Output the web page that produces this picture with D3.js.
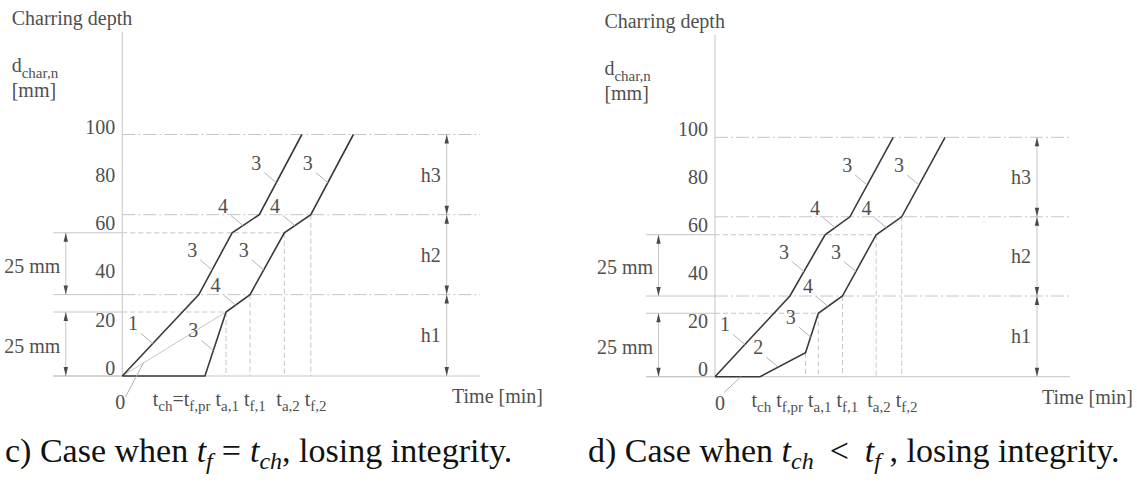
<!DOCTYPE html>
<html><head><meta charset="utf-8">
<script src="https://cdn.jsdelivr.net/npm/d3@7"></script>
<style>
html,body{margin:0;padding:0;background:#fff;}
svg{display:block;}
text{font-family:"Liberation Serif","Times New Roman",serif;}
</style></head><body>
<svg id="chart" width="1137" height="485"></svg>
<script>
// ---------- data ----------
const depthTicks = [0, 20, 40, 60, 80, 100];          // charring depth [mm]
const layerTops = [33.7, 66.8, 100];                   // upper bound of h1, h2, h3 [mm]
const layerNames = ["h1", "h2", "h3"];
const protectionSpans = [[0, 26.5], [33.7, 59.3]];     // 25 mm protected zones [mm]
const protectionLabel = "25 mm";
const protectedDepths = [26.5, 59.3];

// c) t_f = t_ch
const cLine1Time  = [0, 21.4, 30.7, 38.3, 50.2];
const cLine1Depth = [0, 33.7, 59.3, 66.8, 100];
const cLine1Phase = ["1", "3", "4", "3"];
const cLine2Time  = [0, 23.1, 29.0, 35.7, 45.3, 52.7, 64.6];
const cLine2Depth = [0, 0, 26.5, 33.7, 59.3, 66.8, 100];
const cLine2Phase = [null, "3", "4", "3", "4", "3"];
const cRefTime  = [0, 29.0];
const cRefDepth = [0, 26.5];
const cTimeLabels = ["t_ch=t_f,pr", "t_a,1", "t_f,1", "t_a,2", "t_f,2"];

// d) t_ch < t_f
const dLine1Time  = [0, 21.1, 31.0, 38.0, 50.2];
const dLine1Depth = [0, 33.7, 59.3, 66.8, 100];
const dLine1Phase = ["1", "3", "4", "3"];
const dLine2Time  = [0, 12.7, 25.5, 29.1, 35.9, 45.4, 52.6, 64.8];
const dLine2Depth = [0, 0, 10, 26.5, 33.7, 59.3, 66.8, 100];
const dLine2Phase = [null, "2", "3", "4", "3", "4", "3"];
const dTimeLabels = ["t_ch", "t_f,pr", "t_a,1", "t_f,1", "t_a,2", "t_f,2"];

// captions: [text, kind] with kind "" roman, "i" italic, "s" italic subscript, "o" operator
const captionC = [["c) Case when ", ""], ["t", "i"], ["f", "s"], ["=", "o"], ["t", "i"], ["ch", "s"], [", losing integrity.", ""]];
const captionD = [["d) Case when ", ""], ["t", "i"], ["ch", "s"], ["<", "o"], ["t", "i"], ["f", "s"], [" , losing integrity.", ""]];

// ---------- drawing ----------
const svg = d3.select("#chart");
const INK = "#3a3a3a", TXT = "#505050", GRID = "#c6c6c6", LEAD = "#b4b4b4";
const DASHDOT = "13,3,2,3", DASH = "5,3";
const FS = 20, FSUB = 15;

const defs = svg.append("defs");
["up", "down"].forEach(dir => {
  defs.append("marker").attr("id", "arr-" + dir)
    .attr("viewBox", "-5 0 10 10").attr("refX", 0).attr("refY", 0)
    .attr("markerWidth", 10).attr("markerHeight", 10).attr("markerUnits", "userSpaceOnUse")
    .attr("orient", dir === "up" ? 0 : 180).style("overflow", "visible")
    .append("path").attr("d", "M0,0 L-2.2,9 L2.2,9 Z").attr("fill", "#4a4a4a");
});

function subText(sel, str, mainSize, subSize, shift) {
  const re = /([^_]+)_([^=_ ]+)/g;
  let m, first = true;
  while ((m = re.exec(str)) !== null) {
    sel.append("tspan").attr("font-size", mainSize).attr("dy", first ? 0 : -shift).text(m[1]);
    sel.append("tspan").attr("font-size", subSize).attr("dy", shift).text(m[2]);
    first = false;
  }
}

function drawPanel(p) {
  const g = svg.append("g");
  const x = p.x, y = p.y;
  const x0 = x(0), xEnd = x(100), xDim = x(90.7), xExt = x0 - 69, xDimL = x0 - 56.5;
  const pts2 = p.line2.time.map((t, i) => [t, p.line2.depth[i]]);

  // y axis
  g.append("line").attr("x1", x0).attr("x2", x0).attr("y1", p.axisTop).attr("y2", y(0))
    .attr("stroke", GRID).attr("stroke-width", 1);

  // horizontal reference levels
  g.append("line").attr("x1", xExt).attr("x2", xEnd).attr("y1", y(0)).attr("y2", y(0))
    .attr("stroke", GRID);
  layerTops.forEach(d => {
    g.append("line").attr("x1", x0).attr("x2", xEnd).attr("y1", y(d)).attr("y2", y(d))
      .attr("stroke", GRID).attr("stroke-dasharray", DASHDOT);
  });
  protectedDepths.forEach(d => {
    const pt = pts2.find(q => q[1] === d);
    g.append("line").attr("x1", x0).attr("x2", x(pt[0])).attr("y1", y(d)).attr("y2", y(d))
      .attr("stroke", GRID).attr("stroke-dasharray", DASH);
  });
  // extension lines for the 25 mm dimensions
  protectionSpans.forEach(s => s.forEach(d => {
    g.append("line").attr("x1", xExt).attr("x2", x0).attr("y1", y(d)).attr("y2", y(d))
      .attr("stroke", GRID);
  }));

  // vertical projections of the kinks of line 2
  pts2.slice(0, -1).filter(q => q[1] > 0).forEach(q => {
    g.append("line").attr("x1", x(q[0])).attr("x2", x(q[0])).attr("y1", y(q[1])).attr("y2", y(0))
      .attr("stroke", GRID).attr("stroke-dasharray", DASH);
  });

  // 25 mm dimensions
  protectionSpans.forEach(s => {
    g.append("line").attr("x1", xDimL).attr("x2", xDimL).attr("y1", y(s[1])).attr("y2", y(s[0]))
      .attr("stroke", GRID).attr("marker-start", "url(#arr-up)").attr("marker-end", "url(#arr-down)");
    g.append("text").attr("x", x0 - 62).attr("y", (y(s[0]) + y(s[1])) / 2 + 9)
      .attr("text-anchor", "end").attr("font-size", FS).attr("fill", TXT).text(protectionLabel);
  });

  // layer dimensions h1..h3
  layerTops.forEach((d, i) => {
    const lo = i === 0 ? 0 : layerTops[i - 1];
    g.append("line").attr("x1", xDim).attr("x2", xDim).attr("y1", y(d)).attr("y2", y(lo))
      .attr("stroke", GRID).attr("marker-start", "url(#arr-up)").attr("marker-end", "url(#arr-down)");
    g.append("text").attr("x", xDim - 6).attr("y", (y(d) + y(lo)) / 2 + 7)
      .attr("text-anchor", "end").attr("font-size", FS).attr("fill", TXT).text(layerNames[i]);
  });

  // reference line from the origin
  if (p.ref) {
    g.append("line").attr("x1", x(p.ref.time[0])).attr("y1", y(p.ref.depth[0]))
      .attr("x2", x(p.ref.time[1])).attr("y2", y(p.ref.depth[1]))
      .attr("stroke", GRID).attr("stroke-width", 1);
  }

  // charring lines
  const line = d3.line().x(d => x(d[0])).y(d => y(d[1]));
  [p.line1, p.line2].forEach(L => {
    const pts = L.time.map((t, i) => [t, L.depth[i]]);
    g.append("path").attr("d", line(pts)).attr("fill", "none")
      .attr("stroke", INK).attr("stroke-width", 1.6).attr("stroke-linejoin", "miter");
    // phase numbers with leaders
    L.phase.forEach((ph, i) => {
      if (!ph) return;
      const a = pts[i], b = pts[i + 1];
      const ax = x(a[0]) + 0.4 * (x(b[0]) - x(a[0]));
      const ay = y(a[1]) + 0.4 * (y(b[1]) - y(a[1]));
      g.append("line").attr("x1", ax).attr("y1", ay).attr("x2", ax - 12).attr("y2", ay - 10)
        .attr("stroke", LEAD).attr("stroke-width", 1);
      g.append("text").attr("x", ax - 20).attr("y", ay - 20).attr("dy", "0.35em")
        .attr("text-anchor", "middle").attr("font-size", FS).attr("fill", TXT).text(ph);
    });
  });

  // depth tick labels
  depthTicks.forEach(v => {
    g.append("text").attr("x", x0 - 7).attr("y", y(v) - 1).attr("text-anchor", "end")
      .attr("font-size", FS).attr("fill", TXT).text(v);
  });

  // axis titles
  g.append("text").attr("x", x0 - 110.6).attr("y", p.titleY).attr("font-size", FS).attr("fill", TXT)
    .text("Charring depth");
  const dl = g.append("text").attr("x", x0 - 110.6).attr("y", p.titleY + 47).attr("fill", TXT);
  subText(dl, "d_char,n", FS, FSUB, 6);
  g.append("text").attr("x", x0 - 110.6).attr("y", p.titleY + 72).attr("font-size", FS).attr("fill", TXT)
    .text("[mm]");
  g.append("text").attr("x", xEnd - 28).attr("y", y(0) + 27).attr("font-size", FS).attr("fill", TXT)
    .text("Time [min]");

  // origin label with leader
  const oEnd = [x(p.zero[0]), y(p.zero[1])];
  g.append("line").attr("x1", oEnd[0]).attr("y1", oEnd[1])
    .attr("x2", oEnd[0] + p.zeroLead[0]).attr("y2", oEnd[1] + p.zeroLead[1])
    .attr("stroke", LEAD).attr("stroke-width", 1);
  g.append("text").attr("x", x0 + p.zeroDx).attr("y", y(0) + 33).attr("text-anchor", "middle")
    .attr("font-size", FS).attr("fill", TXT).text("0");

  // time labels at the kinks of line 2, pushed left when crowded
  const labelPts = pts2.slice(1, -1);
  const nodes = labelPts.map((q, i) => {
    const t = g.append("text").attr("y", y(0) + 30).attr("fill", TXT);
    subText(t, p.timeLabels[i], FS, FSUB, 5);
    return { el: t, w: t.node().getComputedTextLength(), x: x(q[0]) - 6 };
  });
  for (let i = nodes.length - 2; i >= 0; i--) {
    const lim = nodes[i + 1].x - 5;
    if (nodes[i].x + nodes[i].w > lim) nodes[i].x = lim - nodes[i].w;
  }
  nodes.forEach(n => n.el.attr("x", n.x));

  // caption
  const cap = svg.append("text").attr("x", p.capX).attr("y", 462).attr("font-size", 34).attr("fill", "#111");
  let shifted = false, padNext = 0;
  p.caption.forEach(([s, k]) => {
    const ts = cap.append("tspan").text(s);
    let dx = padNext;
    padNext = 0;
    if (k === "i") ts.attr("font-style", "italic");
    if (k === "o") { dx += p.opPad; padNext = p.opPad; }
    if (dx) ts.attr("dx", dx);
    if (k === "s") { ts.attr("font-style", "italic").attr("font-size", 24).attr("dy", 7); shifted = true; }
    else if (shifted) { ts.attr("dy", -7); shifted = false; }
  });
}

drawPanel({
  x: d3.scaleLinear().domain([0, 100]).range([122.3, 480]),
  y: d3.scaleLinear().domain([0, 100]).range([376, 134.5]),
  axisTop: 32, titleY: 25,
  line1: { time: cLine1Time, depth: cLine1Depth, phase: cLine1Phase },
  line2: { time: cLine2Time, depth: cLine2Depth, phase: cLine2Phase },
  ref: { time: cRefTime, depth: cRefDepth },
  timeLabels: cTimeLabels,
  zero: [5.9, 5.4], zeroLead: [-18, 34], zeroDx: -2,
  caption: captionC, capX: 5, opPad: 9
});
drawPanel({
  x: d3.scaleLinear().domain([0, 100]).range([715, 1070]),
  y: d3.scaleLinear().domain([0, 100]).range([376.7, 137.3]),
  axisTop: 35, titleY: 28,
  line1: { time: dLine1Time, depth: dLine1Depth, phase: dLine1Phase },
  line2: { time: dLine2Time, depth: dLine2Depth, phase: dLine2Phase },
  ref: null,
  timeLabels: dTimeLabels,
  zero: [7.3, 0], zeroLead: [-17, 16], zeroDx: 5,
  caption: captionD, capX: 588, opPad: 16
});
</script>
</body></html>
